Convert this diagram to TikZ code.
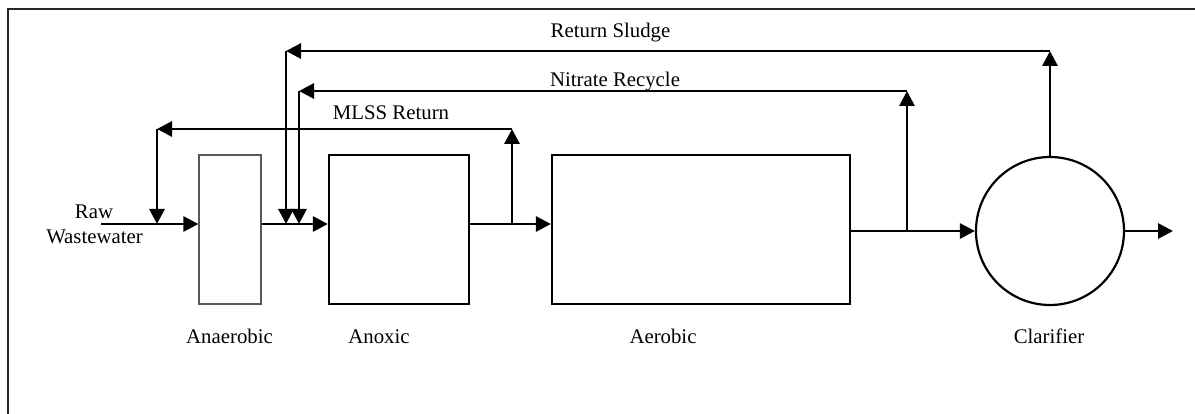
\documentclass[tikz,border=0pt]{standalone}
\usepackage{fontspec}
\setmainfont{Liberation Serif}
\usetikzlibrary{arrows.meta}
\begin{document}
\begin{tikzpicture}[x=1pt,y=-1pt,
  flow/.style={line width=2.9pt,-{Triangle[length=15pt,width=15pt]}},
  tank/.style={draw,line width=2.2pt,rectangle,minimum height=149pt,inner sep=0pt},
  lbl/.style={anchor=base,inner sep=0pt,font=\fontsize{20.8}{25}\selectfont}]
\useasboundingbox (0,0) rectangle (1195,414);
% frame (top and left only)
\draw[line width=2.2pt,draw=black!85] (8,420) -- (8,9) -- (1195,9);
% units
\node[tank,draw=black!65,line width=1.3pt,minimum width=62pt] (an) at (230,229.5) {};
\node[tank,minimum width=140pt] (ax) at (399,229.5) {};
\node[tank,minimum width=298pt] (ae) at (701,229.5) {};
\node[draw,line width=2.2pt,circle,minimum size=148pt,inner sep=0pt] (cl) at (1050,231) {};
% coordinates
\coordinate (raw) at (101,224);
\coordinate (out) at (1173,231);
\coordinate (m1) at (512,224);
\coordinate (mR) at (512,129);
\coordinate (mL) at (157,129);
\coordinate (mD) at (157,224);
\coordinate (n1) at (907,231);
\coordinate (nR) at (907,91);
\coordinate (nL) at (299,91);
\coordinate (nD) at (299,224);
\coordinate (sR) at (1050,51);
\coordinate (sL) at (286,51);
\coordinate (sD) at (286,224);
% main flow
\draw[flow] (raw) -- (an.west |- raw);
\draw[flow] (an.east |- raw) -- (ax.west |- raw);
\draw[flow] (ax.east |- raw) -- (ae.west |- raw);
\draw[flow] (ae.east |- cl.west) -- (cl.west);
\draw[flow] (cl.east) -- (out);
% MLSS return
\draw[flow] (m1) -- (mR);
\draw[flow] (mR) -- (mL);
\draw[flow] (mL) -- (mD);
% nitrate recycle
\draw[flow] (n1) -- (nR);
\draw[flow] (nR) -- (nL);
\draw[flow] (nL) -- (nD);
% return sludge
\draw[flow] (cl.north) -- (sR);
\draw[flow] (sR) -- (sL);
\draw[flow] (sL) -- (sD);
% labels
\node[lbl] (tRS) at (610.5,38) {Return Sludge};
\node[lbl] (tNR) at (615,87) {Nitrate Recycle};
\node[lbl] (tML) at (391,120) {MLSS Return};
\node[lbl] (tRaw) at (94,219) {Raw};
\node[lbl] (tWW) at (94.5,244) {Wastewater};
\node[lbl] (tAn) at (229.5,344) {Anaerobic};
\node[lbl] (tAx) at (379,344) {Anoxic};
\node[lbl] (tAe) at (663,344) {Aerobic};
\node[lbl] (tCl) at (1049,344) {Clarifier};
\end{tikzpicture}
\end{document}
